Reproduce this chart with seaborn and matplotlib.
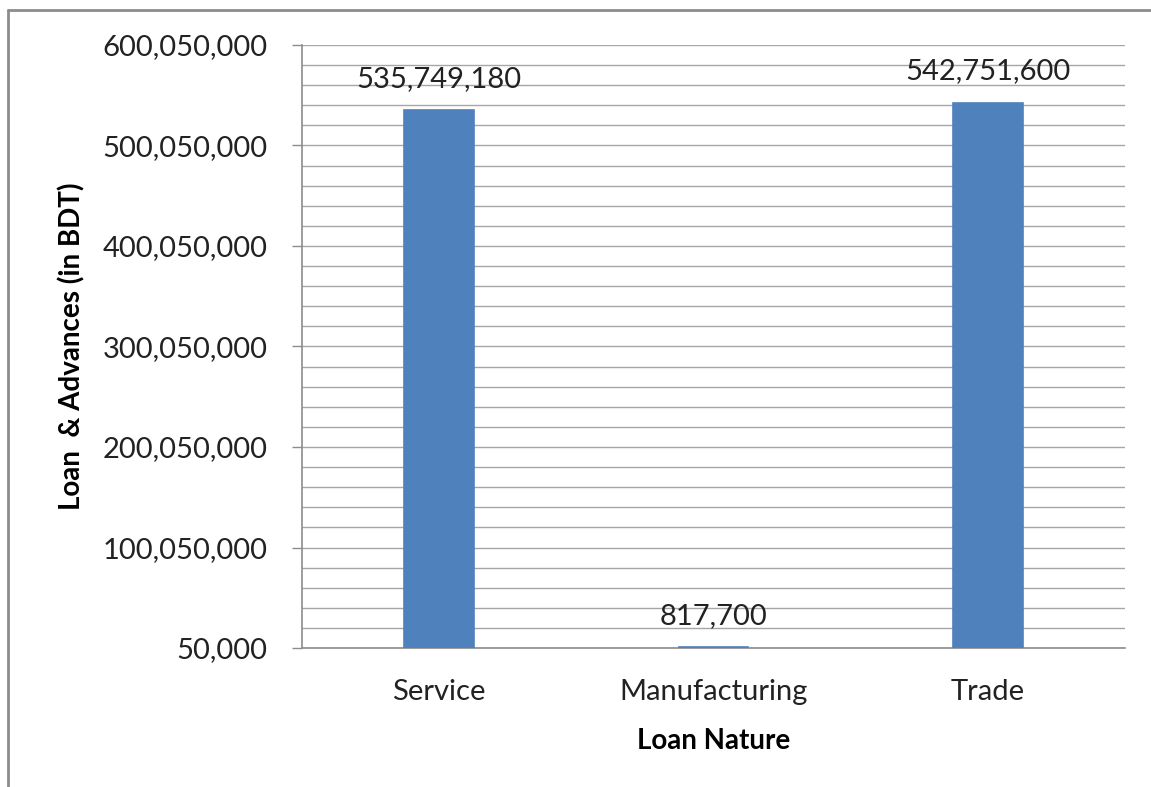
import matplotlib
matplotlib.use("Agg")
import matplotlib.pyplot as plt
from matplotlib.ticker import MultipleLocator, FuncFormatter
from matplotlib.lines import Line2D
import seaborn as sns
import pandas as pd

# Loan nature categories and outstanding loan & advances (BDT)
categories = ["Service", "Manufacturing", "Trade"]
amounts = [535749180, 817700, 542751600]

# Value axis range
y_min = 50000
y_max = 600050000
major_step = 100000000
minor_step = 20000000

sns.set_theme(style="white")
plt.rcParams["font.family"] = ["Lato", "DejaVu Sans"]

df = pd.DataFrame({"nature": categories, "amount": amounts})

fig = plt.figure(figsize=(11.51, 7.87), dpi=100)
ax = fig.add_axes([302 / 1151, (787 - 648) / 787, 823 / 1151, 603 / 787])

sns.barplot(data=df, x="nature", y="amount", color="#4F81BD", saturation=1,
            width=0.255, edgecolor="#4F81BD", linewidth=1.2, ax=ax, zorder=3)

ax.set_ylim(y_min, y_max)
ax.set_xlim(-0.5, len(categories) - 0.5)

ax.yaxis.set_major_locator(MultipleLocator(major_step, offset=y_min))
ax.yaxis.set_minor_locator(MultipleLocator(minor_step, offset=y_min))
ax.yaxis.set_major_formatter(FuncFormatter(lambda v, p: f"{int(round(v)):,}"))

ax.grid(True, which="both", axis="y", color="#a6a6a6", linewidth=1.0, zorder=0)
ax.set_axisbelow(True)

for side in ["top", "right"]:
    ax.spines[side].set_visible(False)
for side in ["left", "bottom"]:
    ax.spines[side].set_visible(True)
    ax.spines[side].set_color("#8c8c8c")
    ax.spines[side].set_linewidth(1.2)

ax.tick_params(axis="y", which="major", left=True, length=7, width=1.0,
               color="#8c8c8c", pad=18, labelsize=21, labelcolor="#222222")
ax.tick_params(axis="y", which="minor", left=False)
ax.tick_params(axis="x", bottom=False, length=0, pad=22.5, labelsize=21,
               labelcolor="#222222")

ax.set_xlabel("Loan Nature", fontsize=20, fontweight="bold", labelpad=16.5, color="#000000")
ax.set_ylabel("Loan  & Advances (in BDT)", fontsize=20, fontweight="bold",
              labelpad=12, color="#000000")

# Value labels above each bar
for i, v in enumerate(amounts):
    ax.annotate(f"{v:,}", xy=(i, max(v, y_min)), xytext=(0, 13),
                textcoords="offset points", ha="center", va="bottom",
                fontsize=21, color="#222222")

# Chart frame (left and top edges)
fig.add_artist(Line2D([8 / 1151, 8 / 1151], [0, 1 - 10 / 787],
                      transform=fig.transFigure, color="#8c8c8c", linewidth=2))
fig.add_artist(Line2D([8 / 1151, 1], [1 - 10 / 787, 1 - 10 / 787],
                      transform=fig.transFigure, color="#8c8c8c", linewidth=2))

fig.savefig("out.png", dpi=100)
